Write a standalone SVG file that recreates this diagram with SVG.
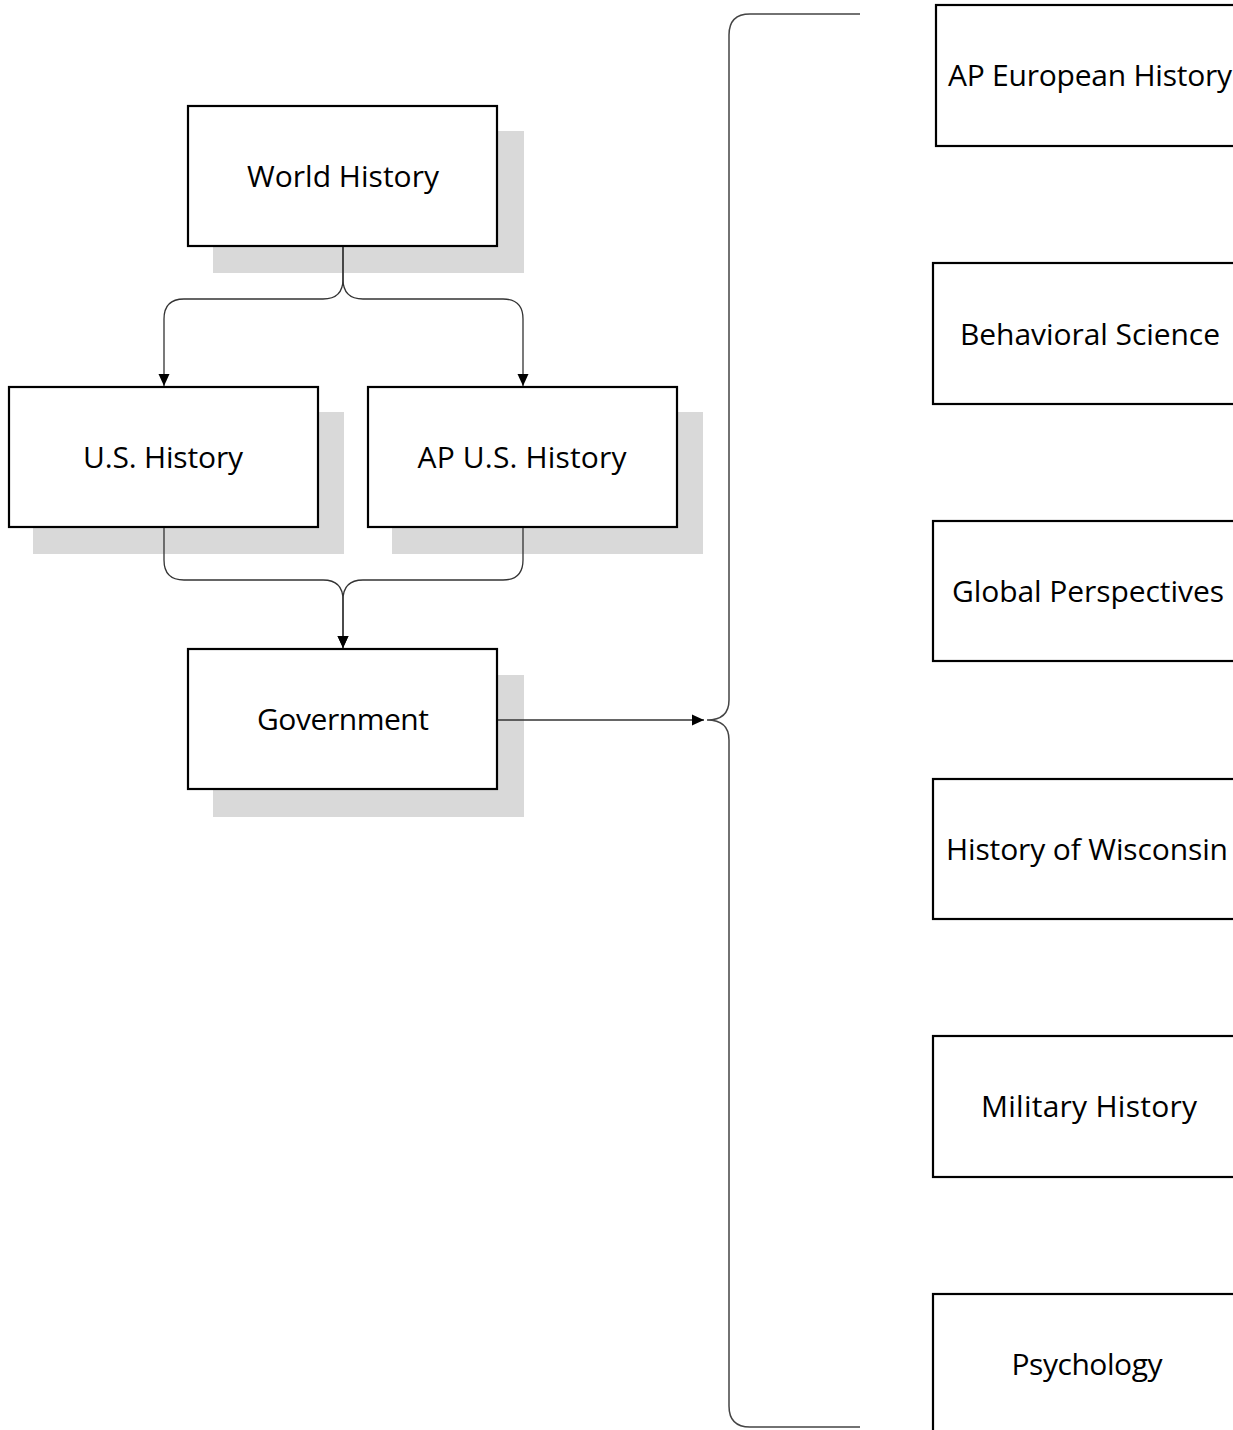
<svg xmlns="http://www.w3.org/2000/svg" width="1233" height="1430" viewBox="0 0 1233 1430">
  <style>
    .shadow { fill: #d9d9d9; }
    .box { fill: #ffffff; stroke: #000000; stroke-width: 2.2; }
    .label { font-family: "Open Sans", "Liberation Sans", sans-serif; font-size: 30px; fill: #000000; text-anchor: middle; }
    .conn { fill: none; stroke: #333333; stroke-width: 1.3; }
    .brace { fill: none; stroke: #444444; stroke-width: 1.5; }
  </style>
  <defs>
    <marker id="arrow" markerUnits="userSpaceOnUse" markerWidth="14" markerHeight="14" viewBox="0 0 14 14" refX="13" refY="7" orient="auto">
      <path d="M1,1.5 L13,7 L1,12.5 Z" fill="#000000"/>
    </marker>
  </defs>

  <!-- left chain -->
  <g id="world-history">
    <rect class="shadow" x="213" y="131" width="311" height="142"/>
    <rect class="box" x="188" y="106" width="309" height="140"/>
    <text class="label" x="343" y="187" textLength="192" lengthAdjust="spacing">World History</text>
  </g>
  <g id="us-history">
    <rect class="shadow" x="33" y="412" width="311" height="142"/>
    <rect class="box" x="9" y="387" width="309" height="140"/>
    <text class="label" x="163" y="468" textLength="160" lengthAdjust="spacing">U.S. History</text>
  </g>
  <g id="ap-us-history">
    <rect class="shadow" x="392" y="412" width="311" height="142"/>
    <rect class="box" x="368" y="387" width="309" height="140"/>
    <text class="label" x="522" y="468" textLength="209" lengthAdjust="spacing">AP U.S. History</text>
  </g>
  <g id="government">
    <rect class="shadow" x="213" y="675" width="311" height="142"/>
    <rect class="box" x="188" y="649" width="309" height="140"/>
    <text class="label" x="343" y="730" textLength="172" lengthAdjust="spacing">Government</text>
  </g>

  <!-- electives column -->
  <g id="ap-european-history">
    <rect class="box" x="936" y="5" width="309" height="141"/>
    <text class="label" x="1090" y="86" textLength="284" lengthAdjust="spacing">AP European History</text>
  </g>
  <g id="behavioral-science">
    <rect class="box" x="933" y="263" width="309" height="141"/>
    <text class="label" x="1090" y="345" textLength="260" lengthAdjust="spacing">Behavioral Science</text>
  </g>
  <g id="global-perspectives">
    <rect class="box" x="933" y="521" width="309" height="140"/>
    <text class="label" x="1088" y="602" textLength="272" lengthAdjust="spacing">Global Perspectives</text>
  </g>
  <g id="history-of-wisconsin">
    <rect class="box" x="933" y="779" width="309" height="140"/>
    <text class="label" x="1087" y="860" textLength="282" lengthAdjust="spacing">History of Wisconsin</text>
  </g>
  <g id="military-history">
    <rect class="box" x="933" y="1036" width="309" height="141"/>
    <text class="label" x="1089" y="1117" textLength="216" lengthAdjust="spacing">Military History</text>
  </g>
  <g id="psychology">
    <rect class="box" x="933" y="1294" width="309" height="141"/>
    <text class="label" x="1087" y="1375" textLength="151" lengthAdjust="spacing">Psychology</text>
  </g>

  <!-- connectors, drawn over the drop shadows -->
  <g id="connectors">
    <path class="conn" d="M343,247 V279 Q343,299 323,299 H184 Q164,299 164,319 V386" marker-end="url(#arrow)"/>
    <path class="conn" d="M343,247 V279 Q343,299 363,299 H503 Q523,299 523,319 V386" marker-end="url(#arrow)"/>
    <path class="conn" d="M164,528 V560 Q164,580 184,580 H323 Q343,580 343,600 V648" marker-end="url(#arrow)"/>
    <path class="conn" d="M523,528 V560 Q523,580 503,580 H363 Q343,580 343,600 V648" marker-end="url(#arrow)"/>
    <path class="conn" d="M498,720 H704" marker-end="url(#arrow)"/>
    <path class="brace" d="M860,14 H750 Q729,14 729,35 V700 Q729,720 707,720 Q729,720 729,740 V1406 Q729,1427 750,1427 H860"/>
  </g>
</svg>
